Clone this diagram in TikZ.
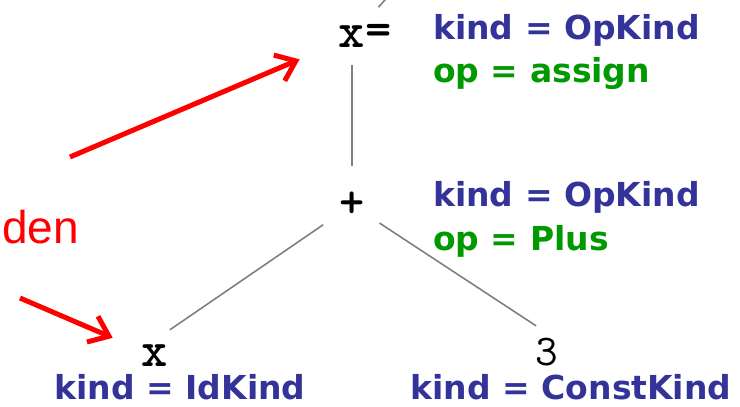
\documentclass[tikz,border=0pt]{standalone}
\usepackage{fontspec}
\usetikzlibrary{arrows.meta}
\newfontfamily\kindfont{DejaVu Sans}
\newfontfamily\notefont{Liberation Sans}
\definecolor{kindblue}{RGB}{51,51,153}
\definecolor{opgreen}{RGB}{0,153,0}

\begin{document}
\begin{tikzpicture}[x=1pt, y=-1pt,
  leaf/.style={inner sep=0pt, font=\ttfamily\bfseries\fontsize{50}{50}\selectfont},
  edge/.style={draw=gray, line width=1.6pt},
  kind/.style={anchor=base west, inner sep=0pt, text=kindblue, font=\kindfont\bfseries\fontsize{33}{33}\selectfont},
  op/.style={kind, text=opgreen},
  hint/.style={draw=red, line width=5pt, -{Straight Barb[length=18pt, width=28pt]}}]
  \useasboundingbox (0,0) rectangle (740,407);
  \node (assign) [leaf] at (352,37) {x};
  \node (assigneq) [leaf] at (379,35) {=};
  \node (plus) [leaf, font=\ttfamily\bfseries\fontsize{48}{48}\selectfont] at (352,205) {+};
  \node (idnode) [leaf] at (155,356) {x};
  \node (constnode) [leaf, font=\ttfamily\fontsize{44}{44}\selectfont] at (547,352) {3};
  \coordinate (parent) at (392,-8);
  \draw [edge, shorten >=40pt] (parent) -- (assign.center);
  \draw [edge, shorten <=28pt, shorten >=39pt] (assign.center) -- (plus.center);
  \draw [edge, shorten <=35pt, shorten >=18pt] (plus.center) -- ([yshift=16pt]idnode.center);
  \draw [edge, shorten <=33pt, shorten >=13pt] (plus.center) -- ([yshift=19pt]constnode.center);
  \node (assignkind) [kind] at (433,39) {kind = OpKind};
  \node (assignop) [op] at (433,82) {op = assign};
  \node (pluskind) [kind] at (433,206) {kind = OpKind};
  \node (plusop) [op] at (433,250) {op = Plus};
  \node (idkind) [kind, anchor=base] at (180,399) {kind = IdKind};
  \node (constkind) [kind, anchor=base] at (571,399) {kind = ConstKind};
  \node (hidden) [anchor=base east, inner sep=0pt, text=red, font=\notefont\fontsize{46}{46}\selectfont] at (79,243) {den};
  \coordinate (hintA) at (70,157);
  \coordinate (hintB) at (20,298);
  \draw [hint, shorten >=57pt] (hintA) -- (assign.center);
  \draw [hint, shorten >=46pt] (hintB) -- (idnode.center);
\end{tikzpicture}
\end{document}
